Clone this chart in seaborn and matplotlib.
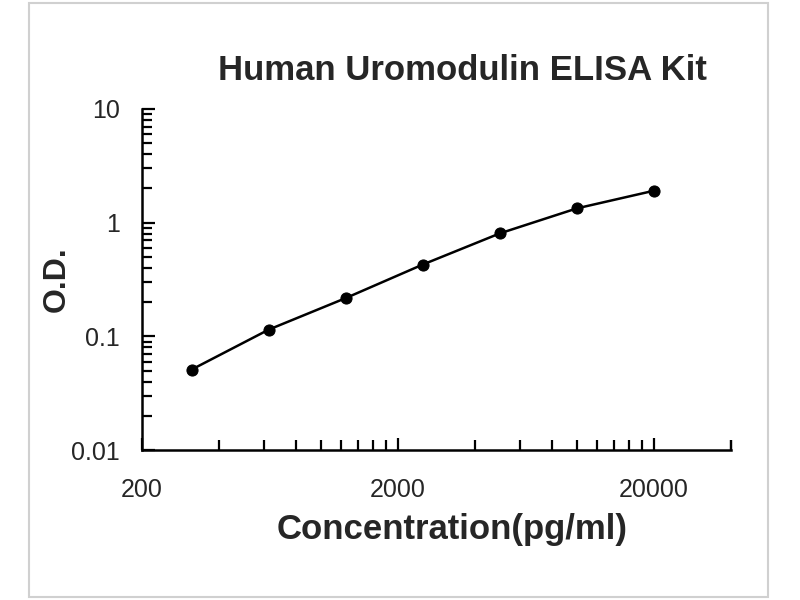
import numpy as np
import pandas as pd
import matplotlib
matplotlib.use("Agg")
import matplotlib.pyplot as plt
import seaborn as sns
from matplotlib.ticker import FixedLocator, NullFormatter, FixedFormatter
from matplotlib.patches import Rectangle

# standard curve readings
concentration = [312.5, 625, 1250, 2500, 5000, 10000, 20000]
od = [0.051, 0.1145, 0.217, 0.428, 0.805, 1.336, 1.91]

x_major = [200, 2000, 20000]
x_labels = ["200", "2000", "20000"]
y_major = [0.01, 0.1, 1, 10]
y_labels = ["0.01", "0.1", "1", "10"]

df = pd.DataFrame({"conc": concentration, "od": od})

sns.set_style("white")
plt.rcParams["font.family"] = ["Liberation Sans", "DejaVu Sans"]

fig = plt.figure(figsize=(8, 6), dpi=100)
ax = fig.add_axes([142 / 800, 1 - 450 / 600, (731 - 142) / 800, (450 - 109) / 600])

sns.lineplot(data=df, x="conc", y="od", ax=ax, color="black", linewidth=1.8,
             marker="o", markersize=8, markeredgecolor="black")

ax.set_xscale("log")
ax.set_yscale("log")
ax.set_xlim(200, 40000)
ax.set_ylim(0.01, 10)

# minor ticks every 200*k within each decade
x_minor = [200 * k * 10 ** n for n in range(3) for k in range(2, 10)] + [40000]
y_minor = [k * 10.0 ** n for n in range(-2, 1) for k in range(2, 10)]
ax.xaxis.set_major_locator(FixedLocator(x_major))
ax.xaxis.set_major_formatter(FixedFormatter(x_labels))
ax.xaxis.set_minor_locator(FixedLocator(x_minor))
ax.xaxis.set_minor_formatter(NullFormatter())
ax.yaxis.set_major_locator(FixedLocator(y_major))
ax.yaxis.set_major_formatter(FixedFormatter(y_labels))
ax.yaxis.set_minor_locator(FixedLocator(y_minor))
ax.yaxis.set_minor_formatter(NullFormatter())

ax.tick_params(axis="both", which="both", bottom=True, left=True,
               top=False, right=False)
ax.tick_params(axis="both", which="major", direction="in", length=9, width=1.6,
               labelsize=18, color="black")
ax.tick_params(axis="both", which="minor", direction="in", length=7, width=1.6,
               color="black")
ax.tick_params(axis="x", which="major", pad=20)
ax.tick_params(axis="y", which="major", pad=16)

for side in ["top", "right"]:
    ax.spines[side].set_visible(False)
for side in ["left", "bottom"]:
    ax.spines[side].set_color("black")
    ax.spines[side].set_linewidth(1.8)

ax.set_xlabel("")
ax.set_ylabel("")
fig.text(452 / 800, 1 - 530 / 600, "Concentration(pg/ml)", fontsize=25,
         fontweight="bold", ha="center", va="center")
fig.text(57 / 800, 1 - 279 / 600, "O.D.", fontsize=23, fontweight="bold",
         rotation=90, ha="center", va="center")
fig.text(462 / 800, 1 - 71 / 600, "Human Uromodulin ELISA Kit", fontsize=25,
         fontweight="bold", ha="center", va="center")

# outer chart-area border
fig.patches.append(Rectangle((29 / 800, 3 / 600), (768 - 29) / 800, (597 - 3) / 600,
                             transform=fig.transFigure, fill=False,
                             edgecolor="#d0d0d0", linewidth=1.5))

fig.savefig("out.png", dpi=100)
